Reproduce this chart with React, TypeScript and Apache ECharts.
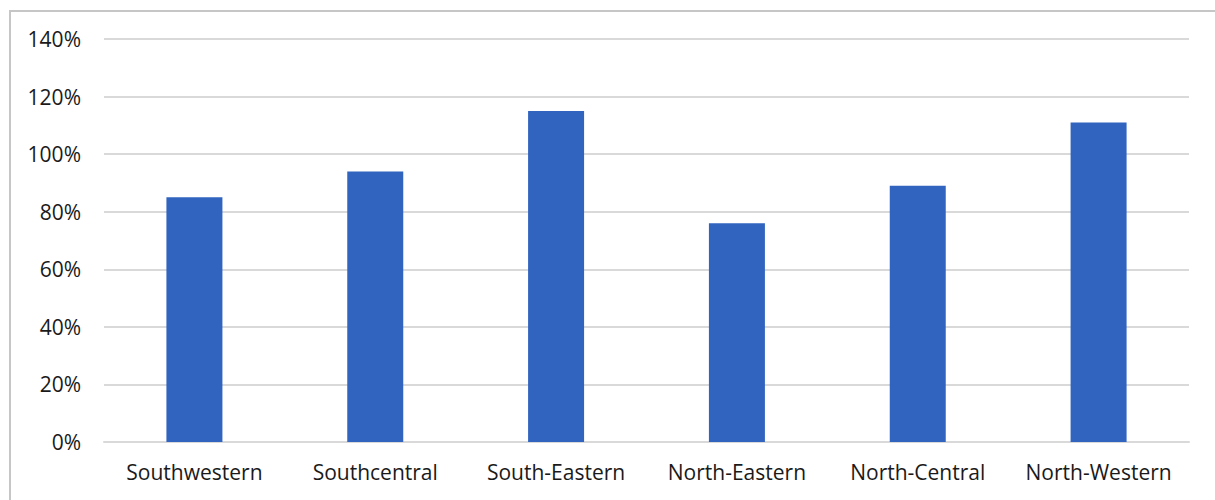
import React, { useEffect, useRef } from "react";
import * as echarts from "echarts";

const categories = ["Southwestern", "Southcentral", "South-Eastern", "North-Eastern", "North-Central", "North-Western"];
const values = [85, 94, 115, 76, 89, 111];

const FONT = "'Open Sans', 'Noto Sans', sans-serif";

export default function App() {
  const ref = useRef<HTMLDivElement>(null);
  useEffect(() => {
    if (!ref.current) return;
    const chart = echarts.init(ref.current, null, { renderer: "svg" });
    chart.setOption({
      animation: false,
      backgroundColor: "#ffffff",
      textStyle: { fontFamily: FONT },
      graphic: [
        {
          type: "rect",
          shape: { x: 10, y: 11, width: 1400, height: 700 },
          style: { fill: "none", stroke: "#c6c6c6", lineWidth: 2 },
          silent: true,
        },
      ],
      grid: { left: 104, right: 26, top: 39, bottom: 58, containLabel: false },
      xAxis: {
        type: "category",
        data: categories,
        axisLine: { show: true, lineStyle: { color: "#d9d9d9", width: 2 } },
        axisTick: { show: false },
        axisLabel: { color: "#1a1a1a", fontSize: 21, margin: 19, interval: 0, fontFamily: FONT },
      },
      yAxis: {
        type: "value",
        min: 0,
        max: 140,
        interval: 20,
        axisLine: { show: false },
        axisTick: { show: false },
        splitLine: { lineStyle: { color: "#d9d9d9", width: 2 } },
        axisLabel: { color: "#1a1a1a", fontSize: 21, margin: 23, formatter: "{value}%", fontFamily: FONT },
      },
      series: [
        {
          type: "bar",
          data: values,
          barWidth: 56,
          itemStyle: { color: "#3064bf" },
        },
      ],
    });
    return () => chart.dispose();
  }, []);
  return <div ref={ref} style={{ position: "absolute", left: 0, top: 0, width: 1215, height: 500 }} />;
}
